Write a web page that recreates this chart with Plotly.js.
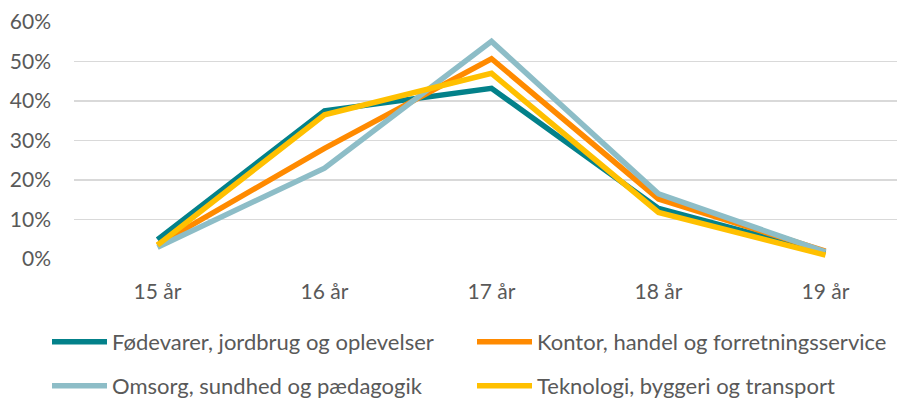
<!DOCTYPE html>
<html><head><meta charset="utf-8">
<script src="https://cdn.plot.ly/plotly-3.0.1.min.js"></script>
<style>html,body{margin:0;padding:0;overflow:hidden;background:#fff;width:897px;height:401px}</style>
</head><body><div id="chart"></div>
<script>
const categories = ["15 år","16 år","17 år","18 år","19 år"];
const foedevarer = [0.049, 0.375, 0.432, 0.128, 0.015];
const kontor     = [0.036, 0.280, 0.507, 0.152, 0.020];
const omsorg     = [0.030, 0.230, 0.551, 0.165, 0.018];
const teknologi  = [0.035, 0.365, 0.470, 0.118, 0.010];
const names = ["Fødevarer, jordbrug og oplevelser","Kontor, handel og forretningsservice","Omsorg, sundhed og pædagogik","Teknologi, byggeri og transport"];
const colors = ["#03818A","#FF8A00","#8DBDC7","#FFC000"];
const series = [foedevarer, kontor, omsorg, teknologi];
const legendIds = ["legend","legend2","legend3","legend4"];
const traces = series.map((v,i)=>({
  x: categories, y: v, type:"scatter", mode:"lines", name: names[i],
  line:{color:colors[i], width:5.5, shape:"linear"}, legend: legendIds[i]
}));
const font = {family:"Lato, 'Open Sans', sans-serif", size:21, color:"#595959"};
const legendFont = {family:"Lato, 'Open Sans', sans-serif", size:22, color:"#595959"};
const legendBase = {orientation:"h", xref:"container", yref:"container", xanchor:"left", yanchor:"middle",
  font:legendFont, itemwidth:55, bgcolor:"rgba(0,0,0,0)", tracegroupgap:0};
const W = 910, H = 401;
const layout = {
  width:W, height:H,
  margin:{l:74, r:1, t:22, b:142},
  paper_bgcolor:"#fff", plot_bgcolor:"#fff",
  font:font,
  showlegend:true,
  xaxis:{type:"category", range:[-0.5,4.5], showgrid:false, zeroline:false, showline:false,
    ticks:"", tickfont:font, ticklabelstandoff:18, fixedrange:true},
  yaxis:{range:[0,0.6], tickvals:[0,0.1,0.2,0.3,0.4,0.5,0.6], tickformat:".0%",
    showgrid:true, gridcolor:"#D9D9D9", gridwidth:1.5, zeroline:false, showline:false,
    ticks:"", tickfont:font, ticklabelstandoff:22, fixedrange:true},
  legend:  Object.assign({}, legendBase, {x:47/W,  y:1-342/H}),
  legend2: Object.assign({}, legendBase, {x:472/W, y:1-342/H}),
  legend3: Object.assign({}, legendBase, {x:47/W,  y:1-386/H}),
  legend4: Object.assign({}, legendBase, {x:472/W, y:1-386/H})
};
Plotly.newPlot("chart", traces, layout, {staticPlot:true, displayModeBar:false});
</script></body></html>
